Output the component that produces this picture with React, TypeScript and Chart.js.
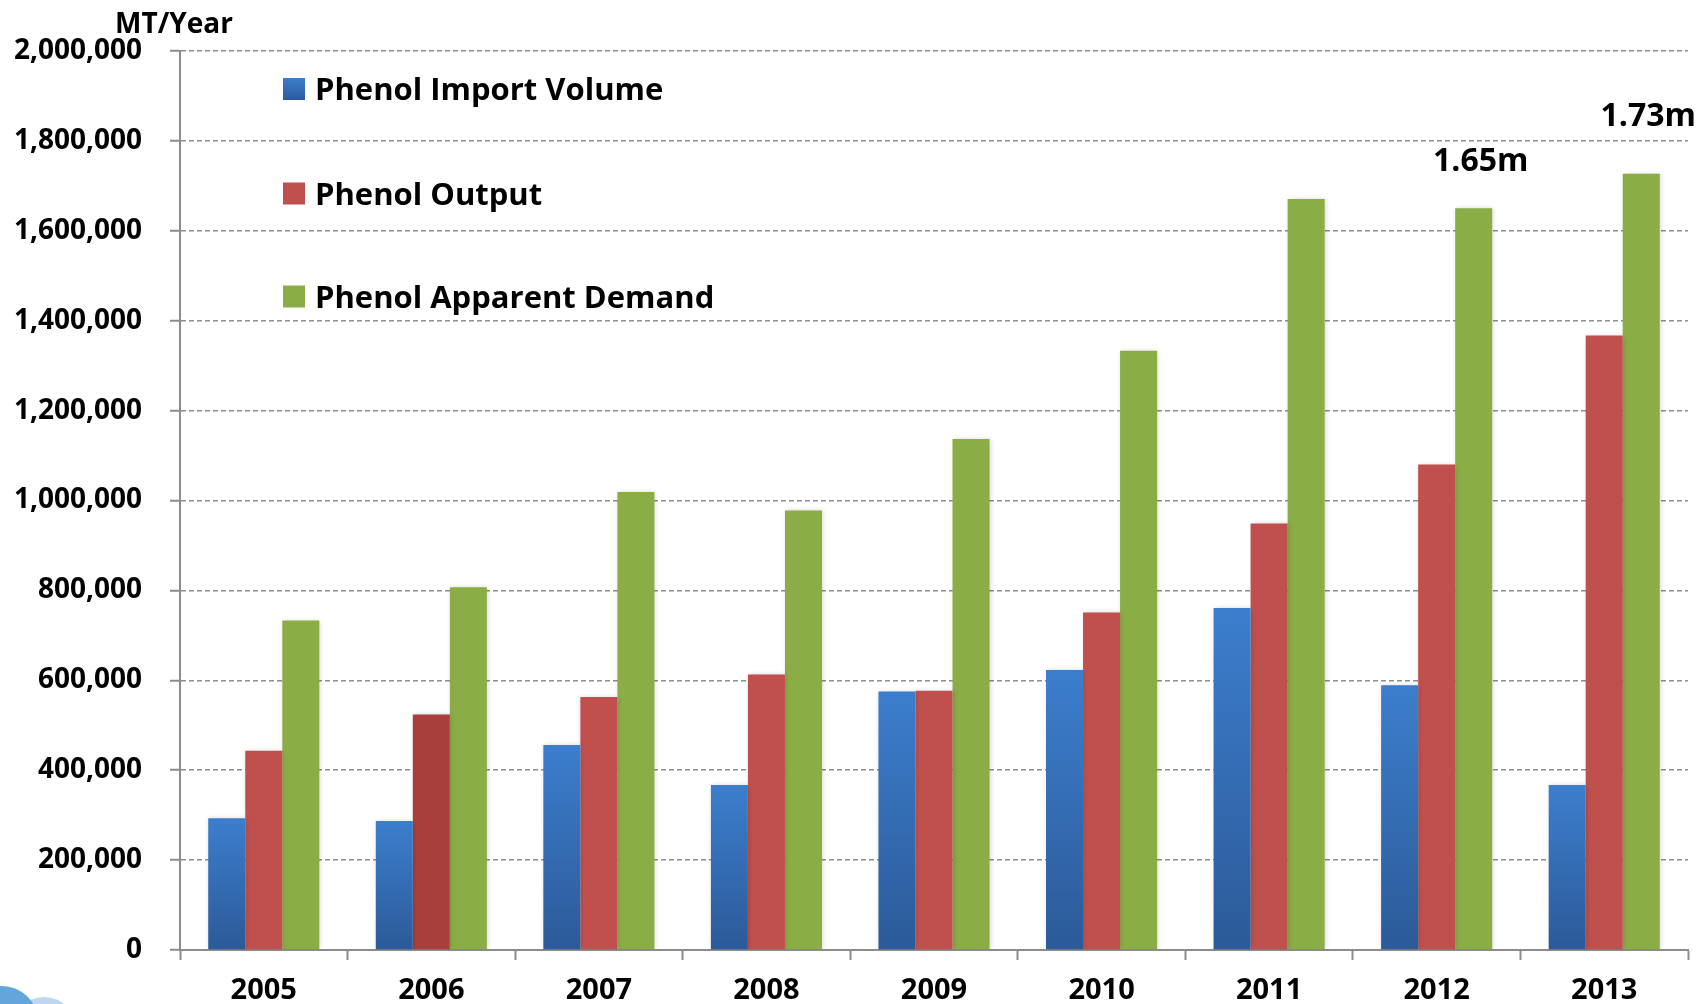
import React, { useEffect, useRef } from 'react';
import { Chart, registerables } from 'chart.js';

Chart.register(...registerables);

const years = ['2005', '2006', '2007', '2008', '2009', '2010', '2011', '2012', '2013'];
const importVolume = [293000, 287000, 456000, 367000, 575000, 623000, 761000, 589000, 367000];
const phenolOutput = [443000, 524000, 563000, 613000, 577000, 751000, 949000, 1080000, 1367000];
const apparentDemand = [733000, 807000, 1019000, 978000, 1137000, 1333000, 1671000, 1650000, 1727000];
const seriesNames = ['Phenol Import Volume', 'Phenol Output', 'Phenol Apparent Demand'];
const peakLabels = ['', '', '', '', '', '', '', '1.65m', '1.73m'];
const yTickStep = 200000;
const yMax = 2000000;
const unitLabel = 'MT/Year';

const FONT = '"Open Sans", "DejaVu Sans", sans-serif';
const BLUE_TOP = '#3C7ECD';
const BLUE_BOTTOM = '#2C5A98';
const RED = '#C0504D';
const RED_DARK = '#A83F3D';
const GREEN = '#8BAD46';
const GRID = '#8C8C8C';

function blueGradient(ctx: CanvasRenderingContext2D, top: number, bottom: number) {
  if (!isFinite(top) || !isFinite(bottom) || top === bottom) return BLUE_TOP as any;
  const g = ctx.createLinearGradient(0, top, 0, bottom);
  g.addColorStop(0, BLUE_TOP);
  g.addColorStop(1, BLUE_BOTTOM);
  return g;
}

export default function App() {
  const canvasRef = useRef<HTMLCanvasElement | null>(null);

  useEffect(() => {
    document.body.style.margin = '0';
    const canvas = canvasRef.current;
    if (!canvas) return;

    const overlay = {
      id: 'overlay',
      beforeDatasetsDraw(chart: any) {
        const ctx = chart.ctx;
        ctx.save();
        ctx.shadowColor = 'rgba(0,0,0,0.18)';
        ctx.shadowBlur = 5;
        ctx.shadowOffsetX = 1;
        ctx.shadowOffsetY = 0;
      },
      afterDatasetsDraw(chart: any) {
        chart.ctx.restore();
      },
      afterDraw(chart: any) {
        const ctx: CanvasRenderingContext2D = chart.ctx;
        const area = chart.chartArea;
        ctx.save();
        // unit label
        ctx.fillStyle = '#000';
        ctx.font = `bold 28px ${FONT}`;
        ctx.textAlign = 'center';
        ctx.textBaseline = 'alphabetic';
        ctx.fillText(unitLabel, area.left - 6, area.top - 18);

        // legend inside plot
        const legendColors = [null, RED, GREEN];
        const baselines = [49, 153.5, 256.5];
        ctx.font = `bold 31px ${FONT}`;
        ctx.textAlign = 'left';
        seriesNames.forEach((name, i) => {
          const base = area.top + baselines[i];
          const sx = area.left + 103;
          const sy = base - 22;
          ctx.fillStyle = i === 0 ? blueGradient(ctx, sy, sy + 22) : (legendColors[i] as string);
          ctx.fillRect(sx, sy, 22, 22);
          ctx.fillStyle = '#000';
          ctx.fillText(name, area.left + 135, base);
        });

        // peak annotations above the demand bars
        const meta = chart.getDatasetMeta(2);
        const dy = [0, 0, 0, 0, 0, 0, 0, 37, 48];
        ctx.font = `bold 32px ${FONT}`;
        ctx.textAlign = 'center';
        peakLabels.forEach((lab, i) => {
          if (!lab) return;
          const el = meta.data[i];
          ctx.fillText(lab, el.x + 7, el.y - dy[i]);
        });

        // decorative logo fragment bottom-left
        ctx.fillStyle = '#BBD8F0';
        ctx.beginPath();
        ctx.arc(44, 1030, 33, 0, Math.PI * 2);
        ctx.fill();
        ctx.fillStyle = '#62A6DC';
        ctx.beginPath();
        ctx.arc(2, 1022, 36, 0, Math.PI * 2);
        ctx.fill();
        ctx.restore();
      },
    };

    const chart = new Chart(canvas, {
      type: 'bar',
      data: {
        labels: years,
        datasets: [
          {
            label: seriesNames[0],
            data: importVolume,
            backgroundColor: (c: any) => {
              const ch = c.chart;
              const y = ch.scales && ch.scales.y;
              if (!y || c.type !== 'data' || !ch.chartArea) return BLUE_TOP;
              const top = y.getPixelForValue(c.raw);
              const bottom = y.getPixelForValue(0);
              return blueGradient(ch.ctx, top, bottom);
            },
          },
          {
            label: seriesNames[1],
            data: phenolOutput,
            backgroundColor: years.map((_, i) => (i === 1 ? RED_DARK : RED)),
          },
          {
            label: seriesNames[2],
            data: apparentDemand,
            backgroundColor: GREEN,
          },
        ],
      },
      options: {
        animation: false,
        responsive: false,
        maintainAspectRatio: false,
        layout: { padding: { top: 51, right: 13, left: 0, bottom: 0 } },
        datasets: { bar: { categoryPercentage: 0.663, barPercentage: 1.0, borderWidth: 0 } },
        plugins: {
          legend: { display: false },
          tooltip: { enabled: false },
          title: { display: false },
        },
        scales: {
          x: {
            offset: true,
            grid: {
              display: true,
              offset: true,
              drawOnChartArea: false,
              drawTicks: true,
              tickLength: 10,
              tickColor: GRID,
              tickWidth: 2,
            },
            border: { display: true, color: GRID, width: 2 },
            ticks: { color: '#000', font: { family: FONT, size: 29, weight: 'bold' }, padding: 13 },
            afterFit: (s: any) => {
              s.height = 54;
            },
          },
          y: {
            min: 0,
            max: yMax,
            grid: {
              color: GRID,
              lineWidth: 1.5,
              drawTicks: true,
              tickLength: 10,
              tickColor: GRID,
              tickWidth: 2,
            },
            border: { display: true, color: GRID, width: 2, dash: [5, 3] },
            ticks: {
              stepSize: yTickStep,
              color: '#000',
              padding: 28,
              font: { family: FONT, size: 28, weight: 'bold' },
              callback: (v: any) => Number(v).toLocaleString('en-US'),
            },
            afterFit: (s: any) => {
              s.width = 180;
            },
          },
        },
      },
      plugins: [overlay],
    });

    return () => {
      chart.destroy();
    };
  }, []);

  return (
    <canvas
      ref={canvasRef}
      width={1701}
      height={1004}
      style={{ display: 'block', width: '1701px', height: '1004px' }}
    />
  );
}
